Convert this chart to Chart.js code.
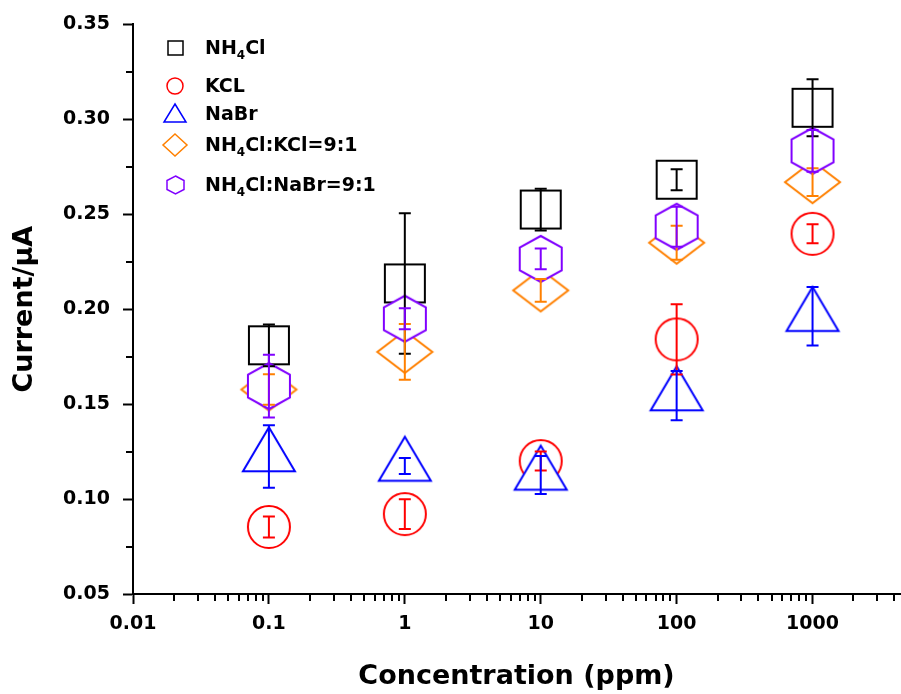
<!DOCTYPE html>
<html lang="en">
<head>
  <meta charset="UTF-8" />
  <title>Current vs concentration</title>
  <script src="https://cdn.jsdelivr.net/npm/chart.js"></script>
  <style>
    body {
      margin: 0;
      background: #fff;
    }

    .wrap {
      position: relative;
      width: 901px;
      height: 694px;
    }

    #grafica {
      display: block;
    }

    .leyenda {
      position: absolute;
      left: 0;
      top: 0;
      font-family: 'DejaVu Sans', sans-serif;
      font-weight: bold;
      font-size: 19px;
      color: #000;
    }

    .fila {
      position: absolute;
      left: 0;
      height: 0;
      white-space: nowrap;
    }

    .fila canvas {
      position: absolute;
    }

    .fila span {
      position: absolute;
      left: 205px;
      top: -12px;
      line-height: 23px;
    }

    .fila sub {
      font-size: 12px;
      vertical-align: -5px;
      line-height: 0;
    }
  </style>
</head>
<body>
  <div class="wrap">
    <canvas id="grafica" width="901" height="694"></canvas>
    <div class="leyenda" id="leyenda"></div>
  </div>
<script>
  // values
  const concentrations = [0.1, 1, 10, 100, 1000];

  const nh4cl      = [0.181, 0.2136, 0.2525, 0.2682, 0.3061];
  const nh4clErr   = [0.011, 0.037, 0.011, 0.0055, 0.015];
  const kcl        = [0.0853, 0.0921, 0.120, 0.1841, 0.2397];
  const kclErr     = [0.0055, 0.0078, 0.005, 0.0185, 0.005];
  const nabr       = [0.1224, 0.1174, 0.1127, 0.1545, 0.1963];
  const nabrErr    = [0.0165, 0.0042, 0.010, 0.013, 0.0154];
  const mixKcl     = [0.1577, 0.1775, 0.2099, 0.235, 0.2669];
  const mixKclErr  = [0.008, 0.0147, 0.006, 0.0089, 0.0073];
  const mixNabr    = [0.1595, 0.195, 0.2265, 0.2434, 0.2834];
  const mixNabrErr = [0.0165, 0.0055, 0.0055, 0.0105, 0.011];

  const xMajorTicks = [0.01, 0.1, 1, 10, 100, 1000];
  const xTickLabels = ['0.01', '0.1', '1', '10', '100', '1000'];
  const yMajorTicks = [0.05, 0.10, 0.15, 0.20, 0.25, 0.30, 0.35];
  const yTickLabels = ['0.05', '0.10', '0.15', '0.20', '0.25', '0.30', '0.35'];

  const X_MIN = 0.01, X_MAX = 4400;

  // series: data + look
  const series = [
    { name: 'NH<sub>4</sub>Cl',            y: nh4cl,   err: nh4clErr,   color: '#000000', shape: 'square',   w: 40, h: 38 },
    { name: 'KCL',                         y: kcl,     err: kclErr,     color: '#ff0000', shape: 'circle',   w: 42, h: 42 },
    { name: 'NaBr',                        y: nabr,    err: nabrErr,    color: '#0000ff', shape: 'triangle', w: 52, h: 44 },
    { name: 'NH<sub>4</sub>Cl:KCl=9:1',    y: mixKcl,  err: mixKclErr,  color: '#ff8000', shape: 'diamond',  w: 55, h: 42 },
    { name: 'NH<sub>4</sub>Cl:NaBr=9:1',   y: mixNabr, err: mixNabrErr, color: '#8000ff', shape: 'hexagon',  w: 42, h: 46 }
  ];

  // legend look
  const legendRowY = [48, 86, 114, 145, 185];
  const legendSize = [[15, 14], [16, 16], [22, 18], [24, 22], [17, 18]];

  function marker(shape, w, h, color, lw, fill) {
    const pad = 3;
    const c = document.createElement('canvas');
    c.width = Math.ceil(w + pad * 2);
    c.height = shape === 'triangle' ? Math.ceil(h * 4 / 3 + pad * 2) : Math.ceil(h + pad * 2);
    const ctx = c.getContext('2d');
    const cx = c.width / 2, cy = c.height / 2;
    ctx.beginPath();
    if (shape === 'square') {
      ctx.rect(cx - w / 2, cy - h / 2, w, h);
    } else if (shape === 'circle') {
      ctx.ellipse(cx, cy, w / 2, h / 2, 0, 0, Math.PI * 2);
    } else if (shape === 'triangle') {
      // centroid sits on the data point
      ctx.moveTo(cx, cy - 2 * h / 3);
      ctx.lineTo(cx + w / 2, cy + h / 3);
      ctx.lineTo(cx - w / 2, cy + h / 3);
      ctx.closePath();
    } else if (shape === 'diamond') {
      ctx.moveTo(cx, cy - h / 2);
      ctx.lineTo(cx + w / 2, cy);
      ctx.lineTo(cx, cy + h / 2);
      ctx.lineTo(cx - w / 2, cy);
      ctx.closePath();
    } else if (shape === 'hexagon') {
      ctx.moveTo(cx, cy - h / 2);
      ctx.lineTo(cx + w / 2, cy - h / 4);
      ctx.lineTo(cx + w / 2, cy + h / 4);
      ctx.lineTo(cx, cy + h / 2);
      ctx.lineTo(cx - w / 2, cy + h / 4);
      ctx.lineTo(cx - w / 2, cy - h / 4);
      ctx.closePath();
    }
    if (fill) {
      ctx.fillStyle = '#fff';
      ctx.fill();
    }
    ctx.lineWidth = lw;
    ctx.strokeStyle = color;
    ctx.stroke();
    return c;
  }

  // ticks: decades get labels, 2..9 are minor
  const xTicks = [];
  xMajorTicks.forEach((v, i) => {
    xTicks.push({ value: v, major: true, text: xTickLabels[i] });
    for (let m = 2; m <= 9; m++) {
      if (v * m <= X_MAX) xTicks.push({ value: v * m, major: false, text: '' });
    }
  });
  const yTicks = [];
  yMajorTicks.forEach((v, i) => {
    yTicks.push({ value: v, major: true, text: yTickLabels[i] });
    if (i < yMajorTicks.length - 1) {
      yTicks.push({ value: (v + yMajorTicks[i + 1]) / 2, major: false, text: '' });
    }
  });

  // error bars go on top of every symbol
  const errorBars = {
    id: 'errorBars',
    afterDatasetsDraw(chart) {
      const ctx = chart.ctx;
      const ey = chart.scales.y;
      ctx.save();
      ctx.lineWidth = 2;
      series.forEach((s, k) => {
        const meta = chart.getDatasetMeta(k);
        ctx.strokeStyle = s.color;
        meta.data.forEach((p, i) => {
          const y1 = ey.getPixelForValue(s.y[i] + s.err[i]);
          const y2 = ey.getPixelForValue(s.y[i] - s.err[i]);
          ctx.beginPath();
          ctx.moveTo(p.x, y1);
          ctx.lineTo(p.x, y2);
          ctx.moveTo(p.x - 6, y1);
          ctx.lineTo(p.x + 6, y1);
          ctx.moveTo(p.x - 6, y2);
          ctx.lineTo(p.x + 6, y2);
          ctx.stroke();
        });
      });
      ctx.restore();
    }
  };

  // short minor ticks (tickLength is not scriptable)
  const minorTicks = {
    id: 'minorTicks',
    afterDraw(chart) {
      const ctx = chart.ctx;
      const ex = chart.scales.x, ey = chart.scales.y;
      ctx.save();
      ctx.lineWidth = 2;
      ctx.strokeStyle = '#000';
      ctx.beginPath();
      ex.ticks.forEach(t => {
        if (t.major) return;
        const px = Math.round(ex.getPixelForValue(t.value));
        ctx.moveTo(px, ex.top);
        ctx.lineTo(px, ex.top + 7);
      });
      ey.ticks.forEach(t => {
        if (t.major) return;
        const py = Math.round(ey.getPixelForValue(t.value));
        ctx.moveTo(ey.right, py);
        ctx.lineTo(ey.right - 7, py);
      });
      ctx.stroke();
      ctx.restore();
    }
  };

  const tickFont = { family: 'DejaVu Sans', weight: 'bold', size: 19 };
  const titleFont = { family: 'DejaVu Sans', weight: 'bold', size: 27 };
  const majorOnly = c => (c.tick && c.tick.major ? '#000' : 'rgba(0,0,0,0)');

  new Chart(document.getElementById('grafica'), {
    type: 'scatter',
    data: {
      datasets: series.map((s, k) => ({
        label: s.name.replace(/<\/?sub>/g, ''),
        data: concentrations.map((x, i) => ({ x: x, y: s.y[i] })),
        pointStyle: marker(s.shape, s.w, s.h, s.color, 2, true),
        pointRadius: 20,
        borderColor: s.color,
        backgroundColor: s.color,
        order: series.length - k,
        clip: false
      }))
    },
    options: {
      responsive: false,
      animation: false,
      events: [],
      layout: { autoPadding: false, padding: { top: 20, right: 1, left: 0, bottom: 0 } },
      plugins: {
        legend: { display: false },
        tooltip: { enabled: false }
      },
      scales: {
        x: {
          type: 'logarithmic',
          min: X_MIN,
          max: X_MAX,
          afterBuildTicks: axis => { axis.ticks = xTicks.map(t => Object.assign({}, t)); },
          afterFit: axis => {
            axis.height = 100;
            axis.paddingLeft = 0;
            axis.paddingRight = 0;
          },
          border: { display: true, color: '#000', width: 2 },
          grid: { drawOnChartArea: false, tickLength: 10, tickWidth: 2, tickColor: majorOnly },
          ticks: {
            autoSkip: false,
            maxRotation: 0,
            padding: 9,
            color: '#000',
            font: tickFont,
            callback: (v, i, t) => t[i].text || ''
          },
          title: {
            display: true,
            text: 'Concentration (ppm)',
            color: '#000',
            font: titleFont,
            padding: { top: 0, bottom: 1 }
          }
        },
        y: {
          type: 'linear',
          min: 0.05,
          max: 0.35,
          afterBuildTicks: axis => { axis.ticks = yTicks.map(t => Object.assign({}, t)); },
          afterFit: axis => { axis.width = 133; },
          border: { display: true, color: '#000', width: 2 },
          grid: { drawOnChartArea: false, tickLength: 10, tickWidth: 2, tickColor: majorOnly },
          ticks: {
            autoSkip: false,
            padding: 13,
            color: '#000',
            font: tickFont,
            callback: (v, i, t) => t[i].text || ''
          },
          title: {
            display: true,
            text: 'Current/\u03bcA',
            color: '#000',
            font: titleFont,
            padding: { top: 9, bottom: 0 }
          }
        }
      }
    },
    plugins: [errorBars, minorTicks]
  });

  // legend inside the plot, top left
  const legend = document.getElementById('leyenda');
  series.forEach((s, k) => {
    const row = document.createElement('div');
    row.className = 'fila';
    row.style.top = legendRowY[k] + 'px';
    const m = marker(s.shape, legendSize[k][0], legendSize[k][1], s.color, 1.5, false);
    m.style.left = (175 - m.width / 2) + 'px';
    m.style.top = (-m.height / 2 + (s.shape === 'triangle' ? 2 : 0)) + 'px';
    const txt = document.createElement('span');
    txt.innerHTML = s.name;
    row.appendChild(m);
    row.appendChild(txt);
    legend.appendChild(row);
  });
</script>
</body>
</html>
